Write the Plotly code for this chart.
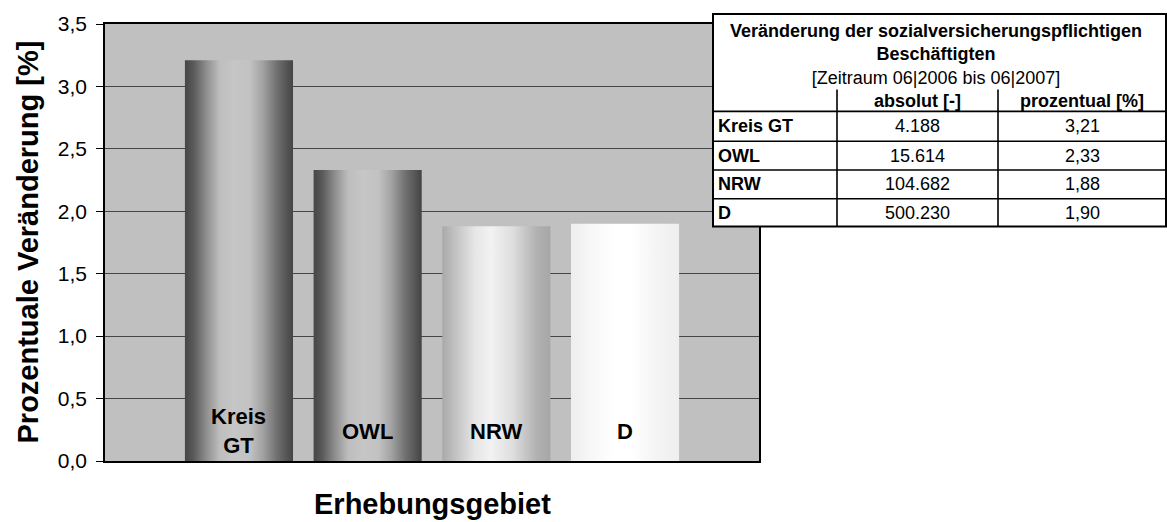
import plotly.graph_objects as go

# ---------------- data ----------------
categories = ["Kreis GT", "OWL", "NRW", "D"]
pct_change = [3.21, 2.33, 1.88, 1.90]          # prozentual [%]
abs_change = [4188, 15614, 104682, 500230]     # absolut [-]
y_ticks = [0.0, 0.5, 1.0, 1.5, 2.0, 2.5, 3.0, 3.5]

table_title = ["Veränderung der sozialversicherungspflichtigen", "Beschäftigten"]
table_period = "[Zeitraum 06|2006 bis 06|2007]"
table_headers = ["absolut [-]", "prozentual [%]"]
x_title = "Erhebungsgebiet"
y_title = "Prozentuale Veränderung [%]"

# ---------------- style ----------------
FONT = "Liberation Sans, Arial, Helvetica, sans-serif"
W, H = 1167, 522
L, R, T, B = 105, 759, 21, 461          # plot area in pixels
BAR_W = 0.84

dark_grad = [[0.0, "#464646"], [0.08, "#5a5a5a"], [0.2, "#8f8f8f"], [0.32, "#bdbdbd"],
             [0.45, "#c6c6c6"], [0.6, "#c2c2c2"], [0.72, "#a2a2a2"], [0.85, "#707070"],
             [1.0, "#444444"]]
mid_grad = [[0.0, "#a9a9a9"], [0.12, "#c2c2c2"], [0.3, "#e6e6e6"], [0.45, "#f2f2f2"],
            [0.65, "#dedede"], [0.88, "#b0b0b0"], [1.0, "#a7a7a7"]]
light_grad = [[0.0, "#eeeeee"], [0.2, "#f8f8f8"], [0.4, "#ffffff"], [0.55, "#ffffff"],
              [0.8, "#f4f4f4"], [1.0, "#eeeeee"]]
gradients = [dark_grad, dark_grad, mid_grad, light_grad]


def px(x):
    return (x - L) / (R - L)


def py(y):
    return (B - y) / (B - T)


fig = go.Figure()

for i, (cat, v) in enumerate(zip(categories, pct_change)):
    x0, x1 = i - BAR_W / 2, i + BAR_W / 2
    fig.add_trace(go.Scatter(
        x=[x0, x0, x1, x1, x0], y=[0, v, v, 0, 0],
        mode="lines", fill="toself",
        line=dict(width=0, color="rgba(0,0,0,0)"),
        fillgradient=dict(type="horizontal", colorscale=gradients[i]),
        name=cat, showlegend=False, hoverinfo="skip"))
    label = "<br>".join(cat.split(" "))
    fig.add_annotation(x=i, y=0, xref="x", yref="y", text=label, showarrow=False,
                       yanchor="middle", yshift=30,
                       font=dict(family=FONT, size=22, color="black", weight="bold"))

# axis titles
fig.add_annotation(x=px(27), y=0.5, xref="paper", yref="paper", text=y_title,
                   textangle=-90, showarrow=False, xanchor="center", yanchor="middle",
                   font=dict(family=FONT, size=29, color="black", weight="bold"))
fig.add_annotation(x=0.5, y=py(504), xref="paper", yref="paper", text=x_title,
                   showarrow=False, xanchor="center", yanchor="middle",
                   font=dict(family=FONT, size=29, color="black", weight="bold"))

# ---------------- table ----------------
TX0, TX1, TY0, TY1 = 713, 1166, 11, 225
header_y = 109
row_lines = [139, 168, 197]
col_x = [837, 998]
col_centers = [(837 + 998) / 2, (998 + 1166) / 2]
row_centers = [124, 153.5, 182.5, 211]

fig.add_shape(type="rect", xref="paper", yref="paper",
              x0=px(TX0), x1=px(TX1), y0=py(TY1), y1=py(TY0),
              fillcolor="white", line=dict(color="black", width=2), layer="above")
for yl in [header_y] + row_lines:
    fig.add_shape(type="line", xref="paper", yref="paper",
                  x0=px(TX0), x1=px(TX1), y0=py(yl), y1=py(yl),
                  line=dict(color="black", width=1.6), layer="above")
for xl in col_x:
    fig.add_shape(type="line", xref="paper", yref="paper",
                  x0=px(xl), x1=px(xl), y0=py(87), y1=py(TY1),
                  line=dict(color="black", width=1.6), layer="above")

title_text = "<br>".join([f"<b>{t}</b>" for t in table_title] + [table_period])
fig.add_annotation(x=px((TX0 + TX1) / 2 - 4), y=py(52), xref="paper", yref="paper",
                   text=title_text, showarrow=False, xanchor="center", yanchor="middle",
                   font=dict(family=FONT, size=18, color="black"))
for cx, h in zip(col_centers, table_headers):
    fig.add_annotation(x=px(cx), y=py(99), xref="paper", yref="paper", text=h,
                       showarrow=False, xanchor="center", yanchor="middle",
                       font=dict(family=FONT, size=18, color="black", weight="bold"))
for rc, cat, a, p in zip(row_centers, categories, abs_change, pct_change):
    fig.add_annotation(x=px(716), y=py(rc), xref="paper", yref="paper", text=cat,
                       showarrow=False, xanchor="left", yanchor="middle",
                       font=dict(family=FONT, size=18, color="black", weight="bold"))
    fig.add_annotation(x=px(col_centers[0]), y=py(rc), xref="paper", yref="paper",
                       text=f"{a:,}".replace(",", "."), showarrow=False,
                       xanchor="center", yanchor="middle",
                       font=dict(family=FONT, size=18, color="black"))
    fig.add_annotation(x=px(col_centers[1]), y=py(rc), xref="paper", yref="paper",
                       text=f"{p:.2f}".replace(".", ","), showarrow=False,
                       xanchor="center", yanchor="middle",
                       font=dict(family=FONT, size=18, color="black"))

fig.update_layout(
    width=W, height=H, autosize=False,
    margin=dict(l=L, r=W - R, t=T, b=H - B, pad=0),
    paper_bgcolor="white", plot_bgcolor="#c0c0c0",
    separators=",.",
    font=dict(family=FONT, color="black"),
    showlegend=False,
)
fig.update_xaxes(range=[-1.041, 3 + 1.041], showticklabels=False, showgrid=False,
                 zeroline=False, showline=True, linecolor="black", linewidth=2,
                 mirror=True, ticks="", fixedrange=True)
fig.update_yaxes(range=[0, 3.5], tickvals=y_ticks, tickformat=".1f", ticks="outside",
                 ticklen=7, tickcolor="black", tickwidth=1, showgrid=True,
                 gridcolor="#454545", gridwidth=1, zeroline=False, showline=True,
                 linecolor="black", linewidth=1.5, mirror=True, ticklabelstandoff=5,
                 tickfont=dict(family=FONT, size=21, color="black"), fixedrange=True)

fig.write_html("out.html", config={"displayModeBar": False},
               post_script="document.body.style.margin='0';"
                           "document.body.style.overflow='hidden';")
